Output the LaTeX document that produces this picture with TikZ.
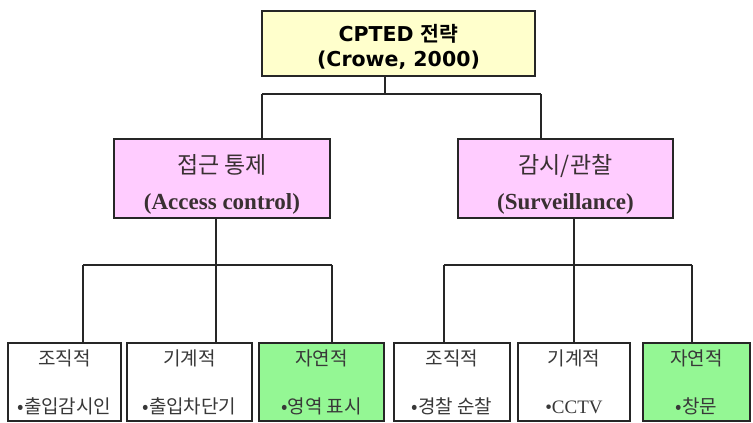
\documentclass[tikz,border=0pt]{standalone}
\usepackage{fontspec}
\setmainfont{Liberation Serif}
\newfontfamily\kr{Noto Sans CJK KR}[BoldFont={Noto Sans CJK KR Bold}]
\newfontfamily\dv{DejaVu Sans}
\definecolor{topfill}{HTML}{FFFFCC}
\definecolor{pinkfill}{HTML}{FFCCFF}
\definecolor{greenfill}{HTML}{94F794}
\definecolor{edge}{HTML}{262626}
\newcommand{\lowerby}[1]{\rule{0pt}{#1}}
\begin{document}
\begin{tikzpicture}[x=1pt,y=-1pt,
  box/.style={draw=edge, line width=1.6pt, inner sep=0pt, align=center},
  topbox/.style={box, fill=topfill, minimum width=273pt, minimum height=65pt,
    font=\bfseries\fontsize{20.5}{25}\selectfont},
  midbox/.style={box, fill=pinkfill, minimum height=79pt, text=black!90!magenta,
    font=\fontsize{23}{36}\selectfont},
  leafbox/.style={box, line width=2pt, minimum height=78pt, text=black!78,
    font=\kr\fontsize{19}{48}\selectfont},
  natural/.style={leafbox, fill=greenfill},
  plain/.style={leafbox, fill=white},
  link/.style={draw=edge, line width=1.5pt}]
\useasboundingbox (0,0) rectangle (753,423);
% boxes
\node[topbox] (top) at (398.5,43.5) {\lowerby{24pt}{\dv CPTED }{\kr 전략}\\{\dv (Crowe, 2000)}};
\node[midbox, minimum width=216pt] (acc) at (222,178.5) {\lowerby{30pt}{\kr 접근 통제}\\{\bfseries (Access control)}};
\node[midbox, minimum width=215pt] (sur) at (565.5,178.5) {\lowerby{30pt}{\kr 감시/관찰}\\{\bfseries (Surveillance)}};
\node[plain, minimum width=113pt] (b1) at (64.5,382) {조직적\\•출입감시인};
\node[plain, minimum width=125pt] (b2) at (189.5,382) {기계적\\•출입차단기};
\node[natural, minimum width=125pt] (b3) at (321.5,382) {자연적\\•영역 표시};
\node[plain, minimum width=116pt] (b4) at (452,382) {조직적\\•경찰 순찰};
\node[plain, minimum width=112pt] (b5) at (574,382) {기계적\\{\rmfamily •CCTV}};
\node[natural, minimum width=107pt] (b6) at (696.5,382) {자연적\\•창문};
% junctions
\coordinate (j0) at (385,94);
\coordinate (jl) at (262,94);
\coordinate (jr) at (541,94);
\coordinate (ja) at (216,265);
\coordinate (h1) at (83,265);
\coordinate (h2) at (216,265);
\coordinate (h3) at (332,265);
\coordinate (js) at (574,265);
\coordinate (h4) at (444,265);
\coordinate (h5) at (574,265);
\coordinate (h6) at (692,265);
% connectors
\draw[link] (top.south -| j0) -- (j0);
\draw[link] (jl) -- (jr);
\draw[link] (jl) -- (jl |- acc.north);
\draw[link] (jr) -- (jr |- sur.north);
\draw[link] (acc.south -| ja) -- (ja);
\draw[link] (h1) -- (h3);
\draw[link] (h1) -- (h1 |- b1.north);
\draw[link] (h2) -- (h2 |- b2.north);
\draw[link] (h3) -- (h3 |- b3.north);
\draw[link] (sur.south -| js) -- (js);
\draw[link] (h4) -- (h6);
\draw[link] (h4) -- (h4 |- b4.north);
\draw[link] (h5) -- (h5 |- b5.north);
\draw[link] (h6) -- (h6 |- b6.north);
\end{tikzpicture}
\end{document}
